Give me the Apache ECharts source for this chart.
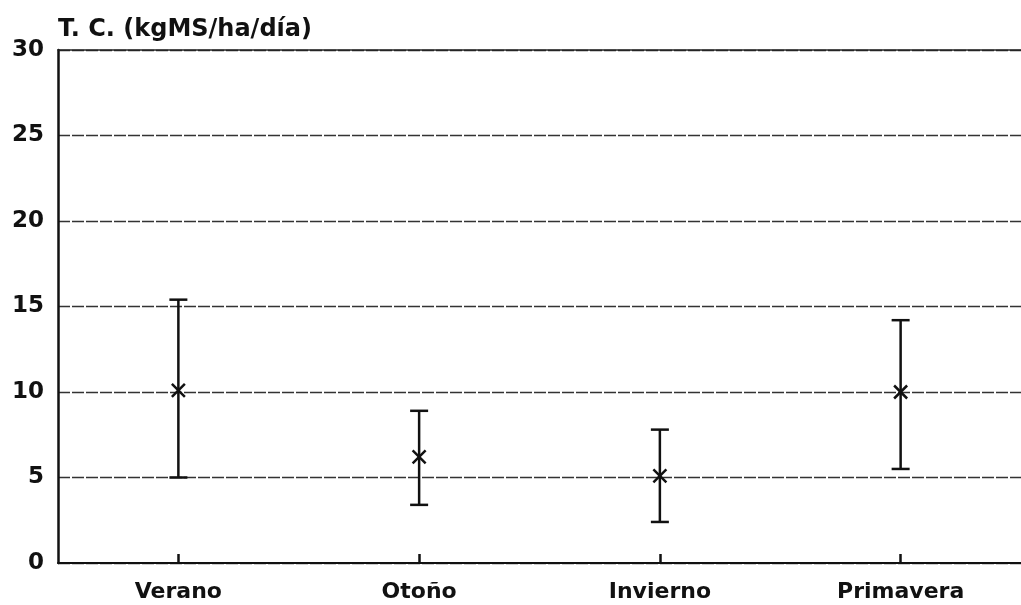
<!DOCTYPE html>
<html>
<head>
<meta charset="utf-8">
<script src="https://cdn.jsdelivr.net/npm/echarts@6/dist/echarts.min.js"></script>
<style>
html,body{margin:0;padding:0;background:#fff;}
#chart{width:1021px;height:605px;}
</style>
</head>
<body>
<div id="chart"></div>
<script>
const categories = ['Verano', 'Otoño', 'Invierno', 'Primavera'];
const meanValues = [10.1, 6.2, 5.1, 10.0];
const lowValues = [5.0, 3.4, 2.4, 5.5];
const highValues = [15.4, 8.9, 7.8, 14.2];
const yTitle = 'T. C. (kgMS/ha/día)';

const errData = categories.map((c, i) => [i, meanValues[i], lowValues[i], highValues[i]]);

const chart = echarts.init(document.getElementById('chart'), null, {renderer: 'canvas'});
const FONT = 'DejaVu Sans';
chart.setOption({
  backgroundColor: '#ffffff',
  animation: false,
  title: {
    text: yTitle,
    left: 53,
    top: 13,
    textStyle: {fontFamily: FONT, fontWeight: 'bold', fontSize: 24, color: '#111'}
  },
  grid: {left: 58, top: 50, width: 968, bottom: 42},
  xAxis: [{
    type: 'category',
    data: categories,
    position: 'bottom',
    axisLine: {show: true, lineStyle: {color: '#111', width: 2}},
    axisTick: {show: true, inside: true, length: 9, alignWithLabel: true, lineStyle: {color: '#111', width: 2.5}},
    axisLabel: {fontFamily: FONT, fontWeight: 'bold', fontSize: 22, color: '#111', margin: 18},
    splitLine: {show: false}
  }, {
    type: 'category',
    data: categories,
    position: 'top',
    axisLine: {show: true, lineStyle: {color: '#222', width: 1.6}},
    axisTick: {show: false},
    axisLabel: {show: false}
  }],
  yAxis: {
    type: 'value',
    min: 0, max: 30, interval: 5,
    axisLine: {show: true, lineStyle: {color: '#111', width: 2.5}},
    axisTick: {show: false},
    axisLabel: {fontFamily: FONT, fontWeight: 'bold', fontSize: 23, color: '#111', margin: 14},
    splitLine: {show: true, lineStyle: {color: '#333', width: 1.3, type: [12, 2]}}
  },
  series: [{
    type: 'custom',
    data: errData,
    encode: {x: 0, y: [1, 2, 3]},
    renderItem: function (params, api) {
      const x = api.value(0);
      const pMean = api.coord([x, api.value(1)]);
      const pLow = api.coord([x, api.value(2)]);
      const pHigh = api.coord([x, api.value(3)]);
      const cap = 9;
      const m = 6.5;
      const st = {stroke: '#111', lineWidth: 2.5};
      return {
        type: 'group',
        children: [
          {type: 'line', shape: {x1: pLow[0], y1: pLow[1], x2: pHigh[0], y2: pHigh[1]}, style: st},
          {type: 'line', shape: {x1: pLow[0] - cap, y1: pLow[1], x2: pLow[0] + cap, y2: pLow[1]}, style: st},
          {type: 'line', shape: {x1: pHigh[0] - cap, y1: pHigh[1], x2: pHigh[0] + cap, y2: pHigh[1]}, style: st},
          {type: 'line', shape: {x1: pMean[0] - m, y1: pMean[1] - m, x2: pMean[0] + m, y2: pMean[1] + m}, style: st},
          {type: 'line', shape: {x1: pMean[0] - m, y1: pMean[1] + m, x2: pMean[0] + m, y2: pMean[1] - m}, style: st}
        ]
      };
    },
    z: 10
  }]
});
</script>
</body>
</html>
